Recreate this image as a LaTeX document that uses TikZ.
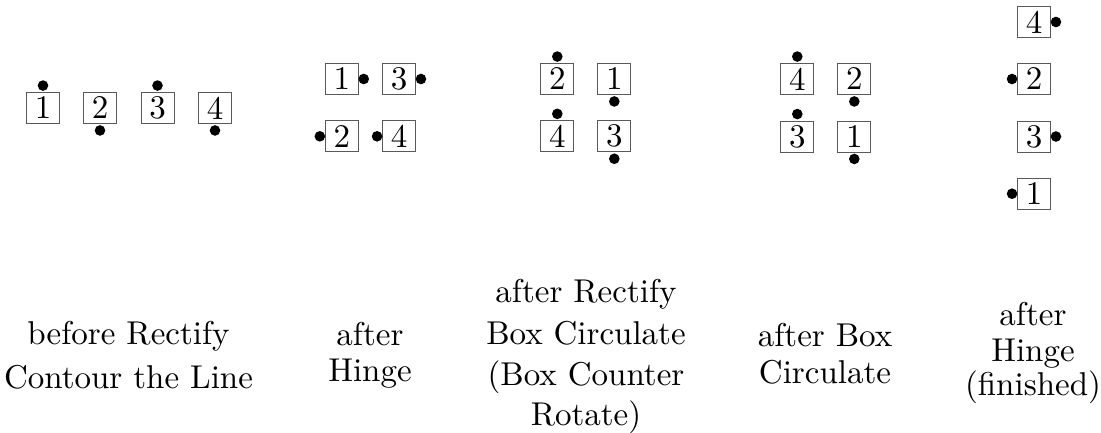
\documentclass[tikz,border=0pt]{standalone}
\usepackage{fontspec}
\usepackage{graphicx}
\newcommand\bigtxt[1]{\scalebox{3.3}{#1}}
\begin{document}
\begin{tikzpicture}[x=1pt,y=-1pt,
  bx/.style={draw=black!65, line width=0.9pt, minimum width=33pt, minimum height=31pt, inner sep=0pt},
  pin/.style={circle, fill=black, inner sep=0pt, minimum size=10.6pt},
  lbl/.style={anchor=base, inner sep=0pt}]
\useasboundingbox (0,0) rectangle (1101,432);
% group 1
\node[bx] (a1) at (43,108) {\bigtxt{1}};
\node[bx] (a2) at (100,108) {\bigtxt{2}};
\node[bx] (a3) at (157.5,108) {\bigtxt{3}};
\node[bx] (a4) at (215,108) {\bigtxt{4}};
\node[pin] (pa1) at ([yshift=6.5pt]a1.north) {};
\node[pin] (pa2) at ([yshift=-6.5pt]a2.south) {};
\node[pin] (pa3) at ([yshift=6.5pt]a3.north) {};
\node[pin] (pa4) at ([yshift=-6.5pt]a4.south) {};
% group 2
\node[bx] (b1) at (341.8,79) {\bigtxt{1}};
\node[bx] (b3) at (399,79) {\bigtxt{3}};
\node[bx] (b2) at (341.8,136.3) {\bigtxt{2}};
\node[bx] (b4) at (399,136.3) {\bigtxt{4}};
\node[pin] (pb1) at ([xshift=5pt]b1.east) {};
\node[pin] (pb3) at ([xshift=5pt]b3.east) {};
\node[pin] (pb2) at ([xshift=-5pt]b2.west) {};
\node[pin] (pb4) at ([xshift=-5pt]b4.west) {};
% group 3
\node[bx] (c2) at (557.3,79) {\bigtxt{2}};
\node[bx] (c1) at (614.3,79) {\bigtxt{1}};
\node[bx] (c4) at (557.3,136.3) {\bigtxt{4}};
\node[bx] (c3) at (614.3,136.3) {\bigtxt{3}};
\node[pin] (pc2) at ([yshift=6.5pt]c2.north) {};
\node[pin] (pc1) at ([yshift=-6.5pt]c1.south) {};
\node[pin] (pc4) at ([yshift=6.5pt]c4.north) {};
\node[pin] (pc3) at ([yshift=-6.5pt]c3.south) {};
% group 4
\node[bx] (d4) at (797.3,79) {\bigtxt{4}};
\node[bx] (d2) at (854.3,79) {\bigtxt{2}};
\node[bx] (d3) at (797.3,136.5) {\bigtxt{3}};
\node[bx] (d1) at (854.3,136.5) {\bigtxt{1}};
\node[pin] (pd4) at ([yshift=6.5pt]d4.north) {};
\node[pin] (pd2) at ([yshift=-6.5pt]d2.south) {};
\node[pin] (pd3) at ([yshift=6.5pt]d3.north) {};
\node[pin] (pd1) at ([yshift=-6.5pt]d1.south) {};
% group 5
\node[bx] (e4) at (1034,22) {\bigtxt{4}};
\node[bx] (e2) at (1034,79) {\bigtxt{2}};
\node[bx] (e3) at (1034,136.5) {\bigtxt{3}};
\node[bx] (e1) at (1034,193.7) {\bigtxt{1}};
\node[pin] (pe4) at ([xshift=5pt]e4.east) {};
\node[pin] (pe2) at ([xshift=-5pt]e2.west) {};
\node[pin] (pe3) at ([xshift=5pt]e3.east) {};
\node[pin] (pe1) at ([xshift=-5pt]e1.west) {};
% labels
\node[lbl] (la1) at (128.5,344) {\bigtxt{before Rectify}};
\node[lbl] (la2) at (128.5,388) {\bigtxt{Contour the Line}};
\node[lbl] (lb1) at (370,345) {\bigtxt{after}};
\node[lbl] (lb2) at (370,381.7) {\bigtxt{Hinge}};
\node[lbl] (lc1) at (586,302.5) {\bigtxt{after Rectify}};
\node[lbl] (lc2) at (586,344.5) {\bigtxt{Box Circulate}};
\node[lbl] (lc3) at (586,385) {\bigtxt{(Box Counter}};
\node[lbl] (lc4) at (586,425) {\bigtxt{Rotate)}};
\node[lbl] (ld1) at (825,346.7) {\bigtxt{after Box}};
\node[lbl] (ld2) at (825,383) {\bigtxt{Circulate}};
\node[lbl] (le1) at (1033,325) {\bigtxt{after}};
\node[lbl] (le2) at (1033,361.7) {\bigtxt{Hinge}};
\node[lbl] (le3) at (1033,395) {\bigtxt{(finished)}};
\end{tikzpicture}
\end{document}
